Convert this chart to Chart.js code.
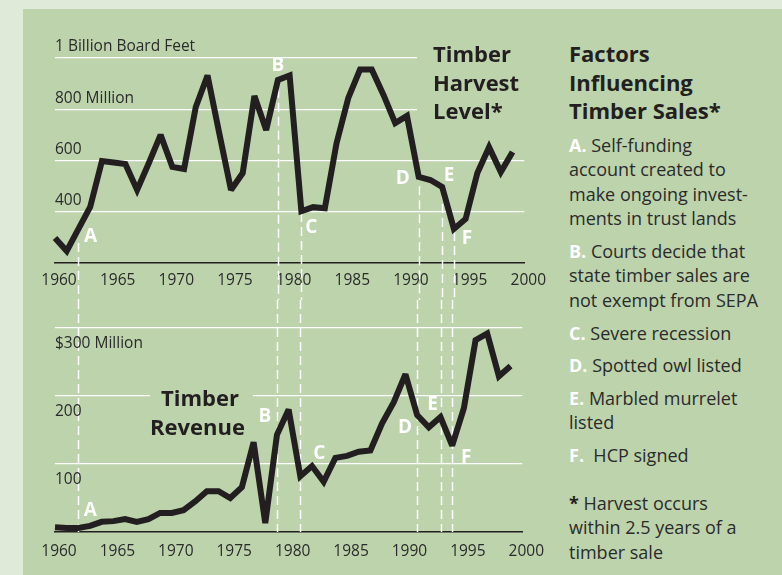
<!DOCTYPE html>
<html>
<head>
<meta charset="utf-8">
<script src="https://cdn.jsdelivr.net/npm/chart.js@4"></script>
<style>
  body { margin: 0; background: #e0ead8; font-family: "Open Sans", sans-serif; color: #2b2b2b; }
  #wrap { position: relative; width: 782px; height: 575px; overflow: hidden; }
  #panel { position: absolute; left: 23px; top: 9px; width: 759px; height: 566px; background: #bcd3ac; }
  canvas { position: absolute; left: 0; }
  .title { position: absolute; background: #bcd3ac; font-weight: bold; font-size: 22px; line-height: 28.5px; color: #231f20; }
  #side { position: absolute; left: 569px; top: 39px; width: 213px; font-size: 18px; line-height: 24.6px; }
  #side h2 { margin: 0; font-size: 22px; line-height: 28.5px; color: #231f20; }
  #side p { margin: 8px 0 0 0; white-space: nowrap; }
  #side b { color: #fff; }
  #side .note { margin-top: 23px; }
  #side .note b { color: #231f20; }
</style>
</head>
<body>
<div id="wrap">
  <div id="panel"></div>
  <canvas id="harvestChart" width="550" height="300" style="top:0"></canvas>
  <canvas id="revenueChart" width="550" height="275" style="top:300px"></canvas>
  <div class="title" style="left:417px;top:39px;width:125px;padding-left:16px;box-sizing:border-box">Timber<br>Harvest<br>Level*</div>
  <div class="title" style="left:150px;top:383px;width:103px;padding-right:14px;box-sizing:border-box;text-align:right">Timber<br>Revenue</div>
  <div id="side">
    <h2>Factors<br>Influencing<br>Timber Sales*</h2>
    <p><b>A.</b> Self-funding<br>account created to<br>make ongoing invest-<br>ments in trust lands</p>
    <p><b>B.</b> Courts decide that<br>state timber sales are<br>not exempt from SEPA</p>
    <p><b>C.</b> Severe recession</p>
    <p><b>D.</b> Spotted owl listed</p>
    <p><b>E.</b> Marbled murrelet<br>listed</p>
    <p><b>F.</b>&nbsp; HCP signed</p>
    <p class="note"><b>*</b> Harvest occurs<br>within 2.5 years of a<br>timber sale</p>
  </div>
</div>
<script>
// data
const years = [1960, 1961, 1962, 1963, 1964, 1965, 1966, 1967, 1968, 1969,
               1970, 1971, 1972, 1973, 1974, 1975, 1976, 1977, 1978, 1979,
               1980, 1981, 1982, 1983, 1984, 1985, 1986, 1987, 1988, 1989,
               1990, 1991, 1992, 1993, 1994, 1995, 1996, 1997, 1998, 1999];
// million board feet
const harvest = [298, 247, 333, 419, 598, 592, 586, 485, 590, 700,
                 575, 567, 809, 932, 707, 485, 551, 852, 719, 914,
                 932, 402, 418, 414, 668, 844, 955, 955, 856, 746,
                 774, 536, 524, 497, 333, 372, 551, 652, 555, 633];
// million dollars
const revenue = [7, 6, 6, 9, 15, 16, 19, 15, 19, 28,
                 28, 32, 45, 60, 60, 50, 66, 132, 13, 143,
                 180, 82, 97, 74, 109, 112, 118, 120, 160, 191,
                 232, 172, 154, 169, 127, 182, 282, 292, 229, 244];

const xTicks = ['1960', '1965', '1970', '1975', '1980', '1985', '1990', '1995', '2000'];
const harvestTickValues = [400, 600, 800, 1000];
const harvestTickLabels = ['400', '600', '800 Million', '1 Billion Board Feet'];
const revenueTickValues = [100, 200, 300];
const revenueTickLabels = ['100', '200', '$300 Million'];

const events = ['A', 'B', 'C', 'D', 'E', 'F'];
const eventYears = [1962, 1979, 1981, 1991, 1993, 1994];
// where the dashed lines start in the top chart (harvest units)
const eventLineStart = [278, 880, 395, 500, 485, 321];
// where the letters sit in each chart (value units)
const harvestLetterAt = [305, 972, 340, 528, 540, 294];
const revenueLetterAt = [31, 169, 116, 154, 187, 110];

const ink = '#231f20';
const textColor = '#2b2b2b';

const markers = {
  id: 'markers',
  beforeDatasetsDraw(chart, args, opts) {
    const { ctx, chartArea, scales: { x, y } } = chart;
    ctx.save();
    ctx.strokeStyle = '#ffffff';
    ctx.lineWidth = 1.5;
    ctx.setLineDash([9, 5]);
    eventYears.forEach((yr, i) => {
      const px = Math.round(x.getPixelForValue(yr)) + 0.5;
      const top = opts.lineStart ? y.getPixelForValue(opts.lineStart[i]) : 0;
      const bottom = opts.toCanvasEnd ? chart.height : chartArea.bottom;
      ctx.beginPath();
      ctx.moveTo(px, top);
      ctx.lineTo(px, bottom);
      ctx.stroke();
    });
    ctx.restore();
    // keep the sharp spikes from shooting out too far
    ctx.miterLimit = 2.5;
  },
  afterDatasetsDraw(chart, args, opts) {
    const { ctx, chartArea, scales: { x, y } } = chart;
    ctx.save();
    // y labels sit next to the gridlines, inside the plot
    ctx.fillStyle = textColor;
    ctx.font = '15.5px "Open Sans"';
    ctx.textAlign = 'left';
    ctx.textBaseline = 'middle';
    opts.tickValues.forEach((v, i) => {
      ctx.fillText(opts.tickLabels[i], chartArea.left, y.getPixelForValue(v) + opts.labelDy);
    });
    // event letters
    ctx.fillStyle = '#ffffff';
    ctx.font = 'bold 19px "Open Sans"';
    ctx.textAlign = 'center';
    events.forEach((e, i) => {
      ctx.fillText(e, x.getPixelForValue(eventYears[i]) + opts.letterDx[i], y.getPixelForValue(opts.letterAt[i]));
    });
    ctx.restore();
  }
};

function makeChart(id, values, yMin, yMax, step, pad, tickPad, markerOpts) {
  return new Chart(document.getElementById(id), {
    type: 'line',
    data: {
      datasets: [{
        data: years.map((yr, i) => ({ x: yr, y: values[i] })),
        borderColor: ink,
        borderWidth: 6,
        borderJoinStyle: 'miter',
        pointRadius: 0,
        tension: 0,
        clip: false
      }]
    },
    options: {
      responsive: false,
      animation: false,
      events: [],
      layout: { padding: pad },
      plugins: {
        legend: { display: false },
        tooltip: { enabled: false },
        markers: markerOpts
      },
      scales: {
        x: {
          type: 'linear',
          min: 1960,
          max: 2000,
          afterFit: s => { s.height = 30; },
          grid: { display: false, drawTicks: false },
          border: { display: true, color: ink, width: 1.5 },
          ticks: {
            stepSize: 5,
            autoSkip: false,
            maxRotation: 0,
            padding: tickPad,
            labelOffset: 4,
            color: textColor,
            font: { family: 'Open Sans', size: 15.5 },
            callback: (v, i) => xTicks[i]
          }
        },
        y: {
          min: yMin,
          max: yMax,
          afterFit: s => { s.width = 0; },
          border: { display: false },
          grid: {
            drawTicks: false,
            lineWidth: 1.3,
            color: c => c.tick.value === yMin ? 'rgba(0,0,0,0)' : '#ffffff'
          },
          ticks: { display: false, stepSize: step }
        }
      }
    },
    plugins: [markers]
  });
}

makeChart('harvestChart', harvest, 200, 1000, 200,
  { left: 55, right: 23, top: 58, bottom: 7 }, 8,
  {
    tickValues: harvestTickValues, tickLabels: harvestTickLabels, labelDy: -11,
    lineStart: eventLineStart, toCanvasEnd: true,
    letterAt: harvestLetterAt, letterDx: [12, 0, 10, -16, 7, 13]
  });

makeChart('revenueChart', revenue, 0, 300, 100,
  { left: 55, right: 23, top: 28, bottom: 13 }, 10,
  {
    tickValues: revenueTickValues, tickLabels: revenueTickLabels, labelDy: 16,
    toCanvasEnd: false,
    letterAt: revenueLetterAt, letterDx: [12, -12, 19, -12, -8, 14]
  });
</script>
</body>
</html>
